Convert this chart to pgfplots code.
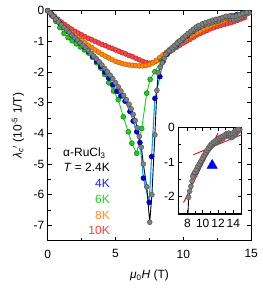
\documentclass[border=0pt]{standalone}
\usepackage{fontspec}
\setmainfont{Liberation Sans}
\usepackage{pgfplots}
\usepackage{pgfplotstable}
\pgfplotsset{compat=1.18}

\definecolor{cred}{RGB}{245,70,70}
\definecolor{credE}{RGB}{185,30,30}
\definecolor{corange}{RGB}{255,135,10}
\definecolor{corangeE}{RGB}{195,90,0}
\definecolor{cgreen}{RGB}{30,205,30}
\definecolor{cgreenE}{RGB}{0,120,0}
\definecolor{cblue}{RGB}{0,0,225}
\definecolor{cblueE}{RGB}{0,0,130}
\definecolor{ccyan}{RGB}{0,165,240}
\definecolor{cgray}{RGB}{128,128,128}
\definecolor{cgrayE}{RGB}{75,75,75}
\definecolor{tblue}{RGB}{30,30,255}
\definecolor{tgreen}{RGB}{40,205,40}
\definecolor{torange}{RGB}{255,140,30}
\definecolor{tred}{RGB}{255,60,60}

\pgfplotstableread{
x y
0 0
0.2 -0.08
0.4 -0.18
0.6 -0.28
0.8 -0.37
1.0 -0.46
1.2 -0.55
1.4 -0.63
1.6 -0.71
1.8 -0.80
2.0 -0.88
2.2 -0.96
2.4 -1.05
2.6 -1.13
2.8 -1.21
3.0 -1.30
3.2 -1.39
3.4 -1.48
3.6 -1.57
3.8 -1.67
4.0 -1.77
4.2 -1.88
4.4 -1.99
4.6 -2.10
4.8 -2.22
5.0 -2.35
5.2 -2.48
5.4 -2.62
5.6 -2.76
5.8 -2.90
6.0 -3.05
6.15 -3.20
6.3 -3.38
6.45 -3.58
6.6 -3.82
6.75 -4.10
6.9 -4.45
7.05 -5.00
7.3 -5.74
7.52 -6.90
7.68 -6.00
7.9 -4.05
8.05 -2.60
8.15 -2.02
8.3 -1.84
8.45 -1.70
8.6 -1.55
8.77 -1.38
9.0 -1.32
9.2 -1.28
9.4 -1.17
9.64 -1.07
9.86 -0.97
10.1 -0.87
10.3 -0.79
10.5 -0.73
10.7 -0.66
10.9 -0.60
11.1 -0.55
11.35 -0.50
11.6 -0.46
11.85 -0.42
12.1 -0.39
12.4 -0.36
12.6 -0.33
12.85 -0.28
13.1 -0.23
13.3 -0.24
13.5 -0.27
13.7 -0.30
13.9 -0.28
14.1 -0.24
14.3 -0.20
14.5 -0.14
14.7 -0.10
14.85 -0.07
}\grayA

\pgfplotstableread{
x y
8.7 -1.42
8.95 -1.30
9.15 -1.22
9.35 -1.13
9.55 -1.06
9.75 -0.98
9.95 -0.90
10.15 -0.82
10.35 -0.74
10.55 -0.67
10.75 -0.60
10.95 -0.53
11.15 -0.48
11.4 -0.43
11.65 -0.39
11.9 -0.35
12.15 -0.31
12.4 -0.28
12.65 -0.26
12.9 -0.22
13.15 -0.18
13.4 -0.17
13.65 -0.19
13.9 -0.17
14.15 -0.13
14.4 -0.09
14.65 -0.06
}\grayB

\begin{document}
\begin{tikzpicture}
\begin{axis}[
  scale only axis, width=203.5bp, height=230bp,
  xmin=0, xmax=15, ymin=-7.5, ymax=0,
  xtick={0,5,10,15}, ytick={-7,-6,-5,-4,-3,-2,-1,0},
  minor x tick num=1, minor y tick num=1,
  tick align=inside,
  major tick length=4bp, minor tick length=3bp,
  axis line style={line width=1.2bp},
  every tick/.style={black, line width=0.9bp},
  font=\fontsize{12}{14}\selectfont,
  /pgf/number format/assume math mode=true,
  xticklabel style={yshift=-5.5bp},
  xlabel={\textit{μ}\textsubscript{0}\textit{H} (T)},
  ylabel={\textit{λ}\textsubscript{\textit{c}}$'$ (10\textsuperscript{-5} 1/T)},
  xlabel style={at={(axis description cs:0.5,-0.125)}, anchor=north, inner sep=0pt},
  ylabel style={at={(axis description cs:-0.115,0.5)}, anchor=south, inner sep=0pt},
]
% 10 K
\addplot[cred, line width=0.5bp, mark=*, mark size=2.5bp,
  mark options={fill=cred, draw=credE, line width=0.4bp}] table {
0 0
0.25 -0.09
0.5 -0.18
0.75 -0.28
1.0 -0.37
1.25 -0.45
1.5 -0.53
1.75 -0.60
2.0 -0.67
2.25 -0.73
2.5 -0.79
2.75 -0.85
3.0 -0.90
3.25 -0.95
3.5 -1.00
3.75 -1.05
4.0 -1.10
4.25 -1.14
4.5 -1.19
4.75 -1.23
5.0 -1.28
5.25 -1.32
5.5 -1.37
5.75 -1.41
6.0 -1.46
6.25 -1.50
6.5 -1.55
6.75 -1.60
7.0 -1.65
7.25 -1.69
7.5 -1.71
7.75 -1.69
8.0 -1.64
8.25 -1.57
8.5 -1.49
8.75 -1.41
9.0 -1.33
9.25 -1.26
9.5 -1.19
9.75 -1.12
10.0 -1.05
10.25 -0.99
10.5 -0.93
10.75 -0.86
11.0 -0.79
11.25 -0.74
11.5 -0.69
11.75 -0.64
12.0 -0.59
12.25 -0.55
12.5 -0.51
12.75 -0.48
13.0 -0.45
13.25 -0.42
13.5 -0.39
13.75 -0.35
14.0 -0.31
14.25 -0.27
14.5 -0.23
};
% 8 K
\addplot[corange, line width=0.5bp, mark=*, mark size=2.5bp,
  mark options={fill=corange, draw=corangeE, line width=0.4bp}] table {
0 0
0.25 -0.11
0.5 -0.22
0.75 -0.34
1.0 -0.45
1.25 -0.54
1.5 -0.63
1.75 -0.72
2.0 -0.80
2.25 -0.89
2.5 -0.97
2.75 -1.05
3.0 -1.13
3.25 -1.20
3.5 -1.28
3.75 -1.35
4.0 -1.42
4.25 -1.48
4.5 -1.54
4.75 -1.60
5.0 -1.65
5.25 -1.69
5.5 -1.72
5.75 -1.75
6.0 -1.77
6.25 -1.78
6.5 -1.79
6.75 -1.80
7.0 -1.80
7.25 -1.79
7.5 -1.76
7.75 -1.70
8.0 -1.62
8.25 -1.53
8.5 -1.44
8.75 -1.35
9.0 -1.26
9.25 -1.18
9.5 -1.10
9.75 -1.03
10.0 -0.96
10.25 -0.89
10.5 -0.83
10.75 -0.77
11.0 -0.71
11.25 -0.65
11.5 -0.59
11.75 -0.54
12.0 -0.49
12.25 -0.44
12.5 -0.40
12.75 -0.36
13.0 -0.32
13.25 -0.28
13.5 -0.25
13.75 -0.21
14.0 -0.18
14.25 -0.15
14.5 -0.12
};
% 6 K
\addplot[cgreen, line width=0.9bp, mark=*, mark size=2.5bp,
  mark options={fill=cgreen, draw=cgreenE, line width=0.4bp}] table {
0 0
0.3 -0.17
0.6 -0.35
0.9 -0.55
1.2 -0.74
1.5 -0.88
1.8 -0.98
2.1 -1.08
2.4 -1.18
2.7 -1.28
3.0 -1.38
3.3 -1.52
3.6 -1.70
3.9 -1.87
4.2 -2.08
4.5 -2.35
4.85 -2.62
5.2 -2.90
5.57 -3.46
5.94 -3.95
6.2 -4.32
6.56 -4.65
6.93 -3.84
7.3 -2.69
7.55 -2.24
7.9 -1.99
8.4 -1.62
8.8 -1.40
9.2 -1.20
9.6 -1.02
10.0 -0.88
10.4 -0.75
10.8 -0.63
11.2 -0.52
11.6 -0.43
12.0 -0.36
12.4 -0.30
12.8 -0.25
13.2 -0.20
13.6 -0.16
14.0 -0.12
14.4 -0.08
};
% 4 K
\addplot[ccyan, line width=1.1bp, mark=*, mark size=2.5bp,
  mark options={fill=cblue, draw=cblueE, line width=0.4bp}] table {
0 0
0.3 -0.13
0.6 -0.27
0.9 -0.41
1.2 -0.55
1.5 -0.68
1.8 -0.80
2.1 -0.93
2.4 -1.06
2.7 -1.19
3.0 -1.33
3.3 -1.48
3.6 -1.65
3.9 -1.82
4.2 -2.00
4.5 -2.20
4.8 -2.42
5.1 -2.63
5.4 -2.78
5.7 -2.95
6.06 -3.29
6.3 -3.60
6.56 -3.95
6.8 -4.30
7.05 -5.46
7.48 -6.25
7.66 -4.76
7.9 -2.86
8.27 -2.15
8.5 -1.66
8.8 -1.42
9.1 -1.28
9.5 -1.12
9.9 -0.96
10.3 -0.82
10.7 -0.68
11.1 -0.56
11.5 -0.47
11.9 -0.40
12.3 -0.34
12.7 -0.28
13.1 -0.22
13.5 -0.18
13.9 -0.14
14.3 -0.10
};
% 2.4 K
\addplot[black, line width=0.9bp, mark=*, mark size=2.5bp,
  mark options={fill=cgray, draw=cgrayE, line width=0.4bp}] table {\grayA};
\addplot[only marks, mark=*, mark size=2.5bp,
  mark options={fill=cgray, draw=cgrayE, line width=0.4bp}] table {\grayB};

\node[anchor=base west, inner sep=0pt] at (axis cs:1.13,-4.76) {α-RuCl\textsubscript{3}};
\node[anchor=base east, inner sep=0pt] at (axis cs:4.59,-5.25) {\textit{T} = 2.4K};
\node[anchor=base east, inner sep=0pt, text=tblue] at (axis cs:4.59,-5.77) {4K};
\node[anchor=base east, inner sep=0pt, text=tgreen] at (axis cs:4.59,-6.30) {6K};
\node[anchor=base east, inner sep=0pt, text=torange] at (axis cs:4.59,-6.82) {8K};
\node[anchor=base east, inner sep=0pt, text=tred] at (axis cs:4.59,-7.31) {10K};
\end{axis}

\begin{axis}[
  at={(130.6bp,26.7bp)}, anchor=south west,
  scale only axis, width=63.4bp, height=86.7bp,
  xmin=6.8, xmax=15.1, ymin=-2.5, ymax=0,
  xtick={8,10,12,14}, ytick={-2,-1,0},
  minor x tick num=1, minor y tick num=1,
  tick align=inside,
  major tick length=3.5bp, minor tick length=2.5bp,
  axis line style={line width=1.2bp},
  every tick/.style={black, line width=0.8bp},
  axis background/.style={fill=white},
  font=\fontsize{12}{14}\selectfont,
  /pgf/number format/assume math mode=true,
  xticklabel style={yshift=-2bp, inner xsep=0pt},
]
\addplot[black, line width=0.9bp, mark=*, mark size=2.5bp,
  mark options={fill=cgray, draw=cgrayE, line width=0.4bp}] table {\grayA};
\addplot[only marks, mark=*, mark size=2.5bp,
  mark options={fill=cgray, draw=cgrayE, line width=0.4bp}] table {\grayB};
\addplot[red, line width=0.9bp] coordinates {(7.48,-2.17) (12.0,-0.17)};
\addplot[red, line width=0.9bp] coordinates {(8.77,-0.79) (15.1,-0.21)};
\addplot[only marks, mark=triangle*, mark size=6bp, color=blue,
  mark options={fill=blue, draw=blue}] coordinates {(11.23,-1.1)};
\end{axis}
\pgfresetboundingbox
\path[use as bounding box] (-47.7bp,-50.3bp) rectangle (215.3bp,240.7bp);
\end{tikzpicture}
\end{document}
